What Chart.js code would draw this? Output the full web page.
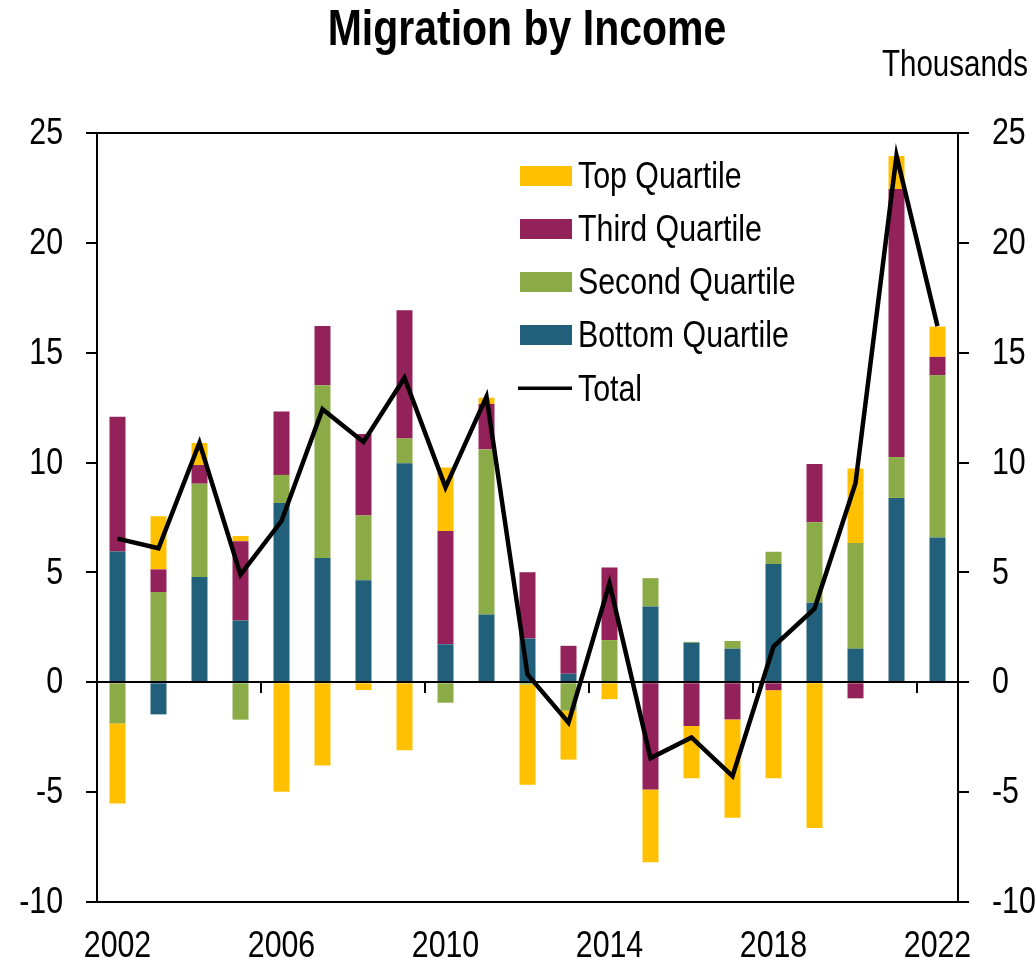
<!DOCTYPE html>
<html>
<head>
<meta charset="utf-8">
<script src="https://cdn.jsdelivr.net/npm/chart.js@4.4.1/dist/chart.umd.min.js"></script>
<style>
html,body{margin:0;padding:0;background:#fff;}
canvas{display:block;}
</style>
</head>
<body>
<canvas id="c" width="1036" height="966"></canvas>
<script>
// ---- data (thousands) ----
const years = [2002,2003,2004,2005,2006,2007,2008,2009,2010,2011,2012,2013,2014,2015,2016,2017,2018,2019,2020,2021,2022];
const bottomQuartile = [5.95,-1.46,4.79,2.81,8.16,5.66,4.64,9.97,1.73,3.09,1.99,0.39,0,3.45,1.80,1.53,5.38,3.62,1.53,8.39,6.59];
const secondQuartile = [-1.87,4.11,4.25,-1.70,1.28,7.86,2.95,1.13,-0.93,7.51,-0.10,-1.29,1.92,1.29,0.04,0.35,0.56,3.66,4.81,1.86,7.38];
const thirdQuartile  = [6.14,1.03,0.85,3.61,2.89,2.70,3.71,5.83,5.15,2.07,3.02,1.27,3.31,-4.88,-1.99,-1.69,-0.36,2.66,-0.73,12.20,0.84];
const topQuartile    = [-3.65,2.42,1.00,0.24,-4.98,-3.79,-0.35,-3.09,2.90,0.28,-4.56,-2.23,-0.77,-3.31,-2.38,-4.48,-4.01,-6.63,3.39,1.50,1.38];
const total          = [6.54,6.10,10.90,4.90,7.34,12.43,10.94,13.86,8.87,13.00,0.36,-1.84,4.50,-3.45,-2.51,-4.27,1.63,3.35,9.06,23.97,16.21];
const yTicks = [-10,-5,0,5,10,15,20,25];
const titleText = "Migration by Income";
const unitText = "Thousands";

const FONT = "'Liberation Sans', Arial, sans-serif";
const SX = 0.82; // narrow (Arial Narrow-like) horizontal compression
const C_TOP = '#FFC000', C_THIRD = '#93215A', C_SECOND = '#8AAB46', C_BOTTOM = '#215F7B';

const legendItems = [
  {label:'Top Quartile', color:C_TOP, type:'box'},
  {label:'Third Quartile', color:C_THIRD, type:'box'},
  {label:'Second Quartile', color:C_SECOND, type:'box'},
  {label:'Bottom Quartile', color:C_BOTTOM, type:'box'},
  {label:'Total', color:'#000', type:'line'}
];

function narrowText(ctx, text, x, y, align, font){
  ctx.save();
  ctx.font = font;
  ctx.fillStyle = '#000';
  ctx.textBaseline = 'middle';
  ctx.textAlign = align;
  ctx.translate(x, y);
  ctx.scale(SX, 1);
  ctx.fillText(text, 0, 0);
  ctx.restore();
}

const decor = {
  id:'decor',
  beforeDatasetDraw(chart, args){
    if (args.meta.type !== 'line') return;
    const {ctx, chartArea:a, scales:{x, y}} = chart;
    const y0 = Math.round(y.getPixelForValue(0));
    ctx.save();
    ctx.strokeStyle = '#000'; ctx.lineWidth = 2;
    ctx.beginPath();
    ctx.moveTo(a.left, y0); ctx.lineTo(a.right, y0);
    years.forEach((yr, i) => {
      if (i > 0 && (yr - years[0]) % 4 === 0) {
        const xb = Math.round((x.getPixelForValue(i-1) + x.getPixelForValue(i)) / 2);
        ctx.moveTo(xb, y0); ctx.lineTo(xb, y0 + 11);
      }
    });
    ctx.stroke();
    ctx.restore();
  },
  afterDraw(chart){
    const {ctx, chartArea:a, scales:{x, y, y2}} = chart;
    ctx.save();
    ctx.strokeStyle = '#000'; ctx.lineWidth = 2;
    const yt = Math.round(y.getPixelForValue(25)), yb = Math.round(y.getPixelForValue(-10));
    ctx.beginPath();
    ctx.moveTo(a.left, yt); ctx.lineTo(a.right, yt);
    ctx.moveTo(a.left, yb); ctx.lineTo(a.right, yb);
    ctx.stroke();
    ctx.restore();
    const tickFont = "37px " + FONT;
    // y tick labels (both sides)
    y.ticks.forEach(t => narrowText(ctx, String(t.value), y.right - 11 - 23, y.getPixelForValue(t.value) + 1, 'right', tickFont));
    y2.ticks.forEach(t => narrowText(ctx, String(t.value), y2.left + 11 + 23, y2.getPixelForValue(t.value) + 1, 'left', tickFont));
    // x tick labels
    years.forEach((yr, i) => {
      if ((yr - years[0]) % 4 === 0) narrowText(ctx, String(yr), x.getPixelForValue(i), a.bottom + 45, 'center', tickFont);
    });
    // title & unit
    narrowText(ctx, titleText, 527, 31, 'center', "bold 50px " + FONT);
    narrowText(ctx, unitText, 1028, 66, 'right', "36px " + FONT);
    // legend
    legendItems.forEach((it, k) => {
      const cy = 175.5 + k * 53.2;
      ctx.save();
      if (it.type === 'box') {
        ctx.fillStyle = it.color;
        ctx.fillRect(520, Math.round(cy - 10), 52, 20);
      } else {
        ctx.strokeStyle = it.color; ctx.lineWidth = 3.5;
        ctx.beginPath(); ctx.moveTo(518, cy); ctx.lineTo(572, cy); ctx.stroke();
      }
      ctx.restore();
      narrowText(ctx, it.label, 578, cy + 2, 'left', "37px " + FONT);
    });
  }
};

function barDs(label, data, color){
  return {type:'bar', label, data, backgroundColor:color, borderWidth:0,
          barPercentage:0.39, categoryPercentage:1, yAxisID:'y', order:2};
}

const yAxisCommon = {
  min:-10, max:25,
  afterBuildTicks(s){ s.ticks = yTicks.map(v => ({value:v})); },
  ticks:{color:'rgba(0,0,0,0)', font:{family:FONT, size:30}, padding:23},
  grid:{drawOnChartArea:false, drawTicks:true, tickLength:11, color:'#000', lineWidth:2},
  border:{display:true, color:'#000', width:2}
};

new Chart(document.getElementById('c'), {
  data:{
    labels: years.map(String),
    datasets:[
      barDs('Bottom Quartile', bottomQuartile, C_BOTTOM),
      barDs('Second Quartile', secondQuartile, C_SECOND),
      barDs('Third Quartile', thirdQuartile, C_THIRD),
      barDs('Top Quartile', topQuartile, C_TOP),
      {type:'line', label:'Total', data: total, borderColor:'#000', borderWidth:4.5,
       pointRadius:0, tension:0, fill:false, yAxisID:'y2', order:0, borderJoinStyle:'miter'}
    ]
  },
  options:{
    responsive:false, animation:false, devicePixelRatio:1,
    layout:{padding:{top:133, left:0, right:0, bottom:0}},
    plugins:{legend:{display:false}, title:{display:false}, tooltip:{enabled:false}},
    scales:{
      x:{
        stacked:true, offset:true,
        afterFit(s){ s.height = 64; },
        grid:{display:false, drawTicks:false},
        border:{display:false},
        ticks:{autoSkip:false, maxRotation:0, color:'rgba(0,0,0,0)', font:{family:FONT, size:30}, padding:21,
               callback(v, i){ return (years[i] - years[0]) % 4 === 0 ? String(years[i]) : ''; }}
      },
      y:Object.assign({}, yAxisCommon, {position:'left', stacked:true, afterFit(s){ s.width = 97; }}),
      y2:Object.assign({}, yAxisCommon, {position:'right', stacked:false, afterFit(s){ s.width = 78; }})
    }
  },
  plugins:[decor]
});
</script>
</body>
</html>
